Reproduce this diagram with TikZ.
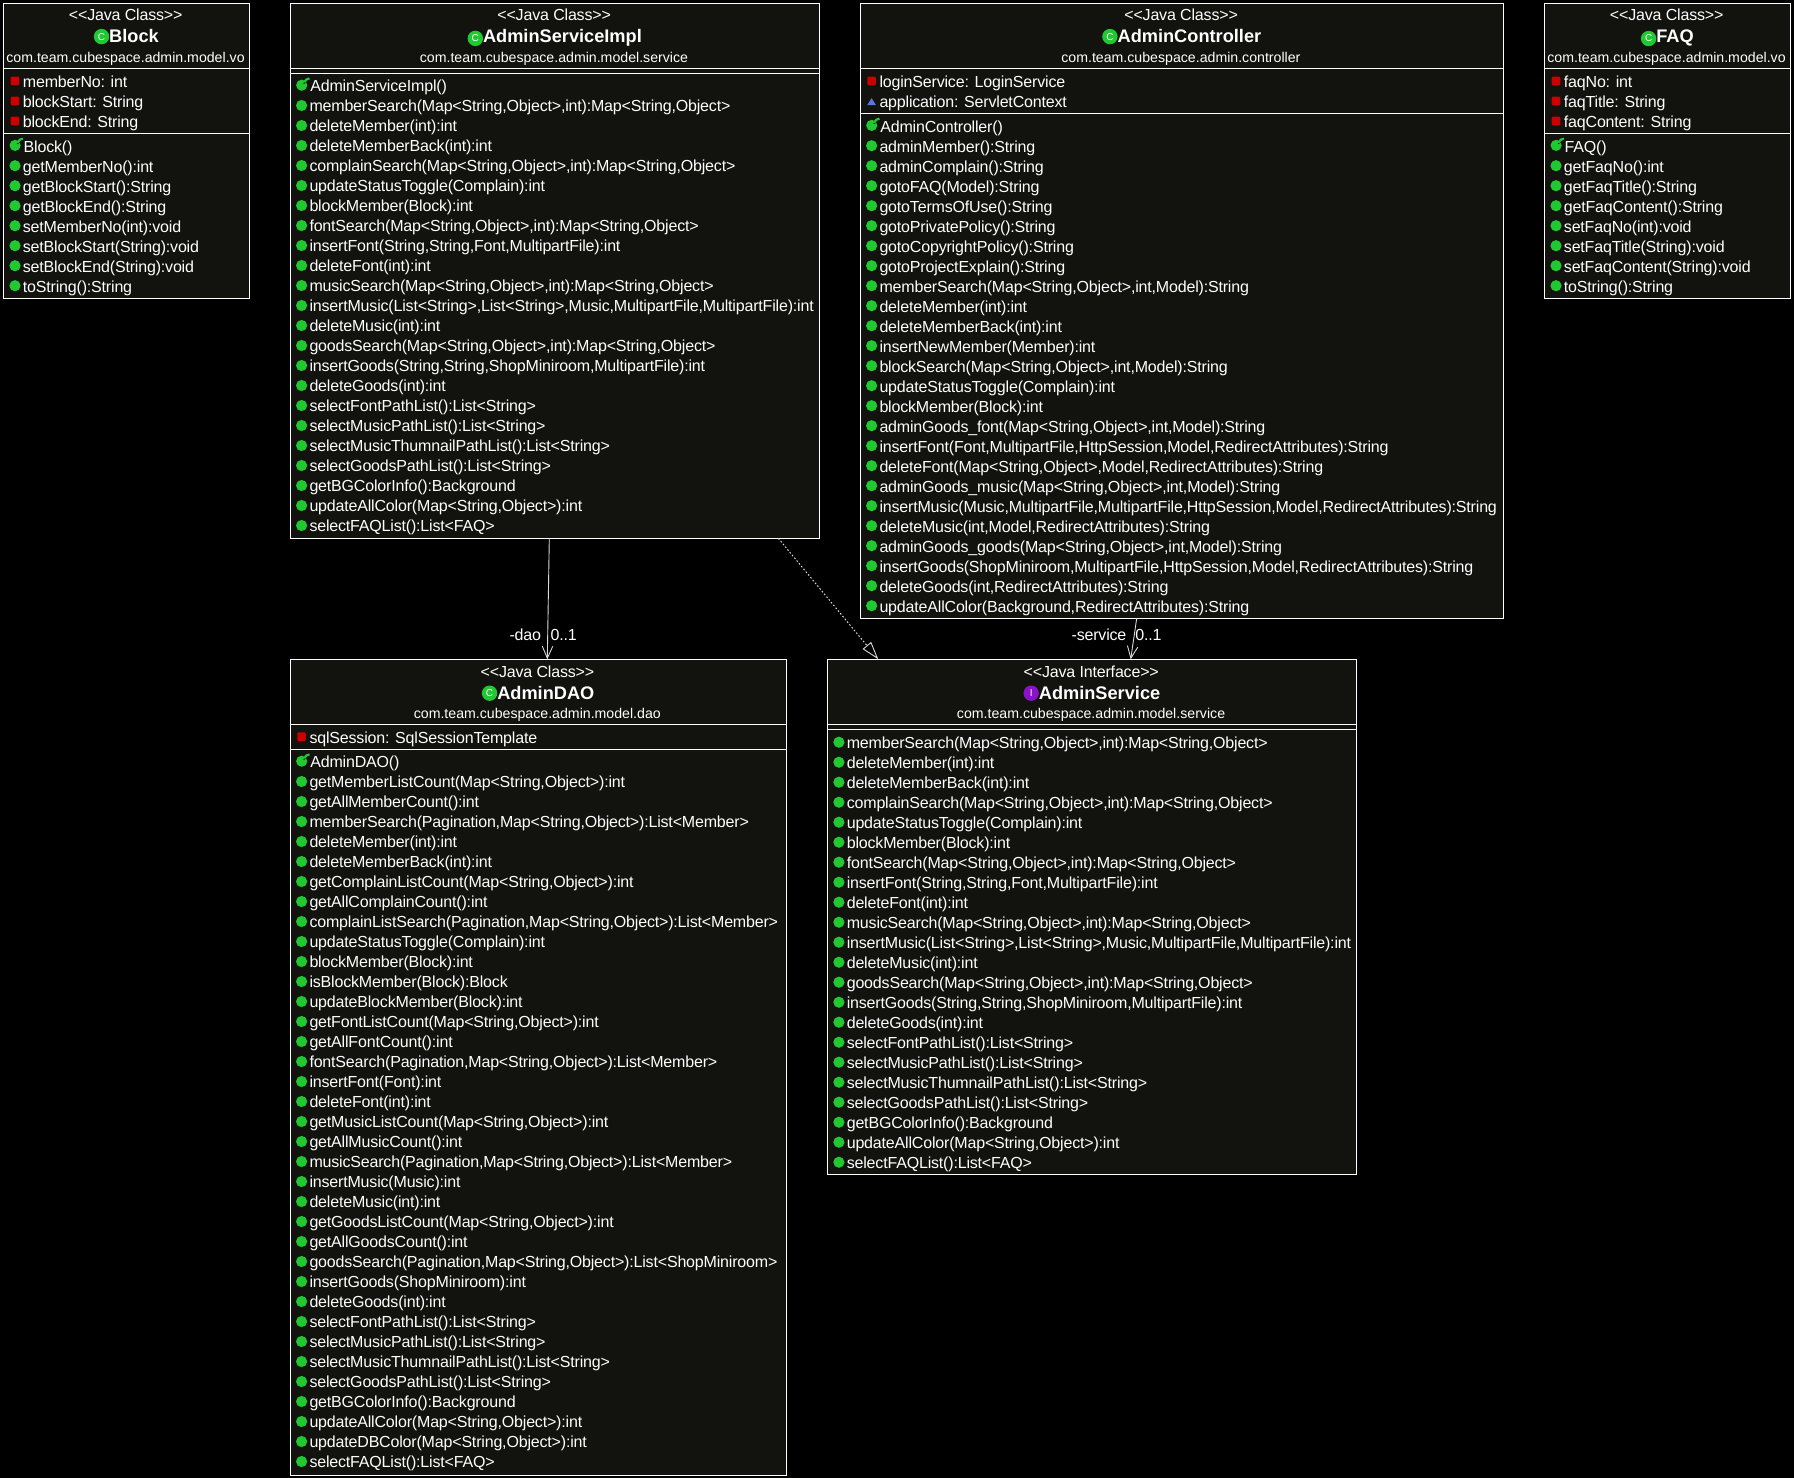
\documentclass[tikz,border=0pt]{standalone}
\usepackage{fontspec}
\setmainfont{Liberation Sans}
\newfontfamily\tightfam[LetterSpace=-1.1]{Liberation Sans}
\usetikzlibrary{arrows.meta}
\definecolor{boxbg}{HTML}{12120E}
\definecolor{pubgreen}{HTML}{22C832}
\definecolor{privred}{HTML}{CC0000}
\definecolor{protblue}{HTML}{5A78DC}
\definecolor{ifacepurple}{HTML}{8A12C8}
\tikzset{
  umlbox/.style={draw=white,fill=boxbg,line width=1pt,inner sep=0,outer sep=0,anchor=north west},
  stereo/.style={text=white,inner sep=0,anchor=base,font=\fontsize{16}{18}\tightfam\selectfont},
  titletext/.style={text=white,inner sep=0,font=\fontsize{18.2}{20}\bfseries\selectfont},
  pkgtext/.style={text=white,inner sep=0,anchor=base,font=\fontsize{14.15}{16}\selectfont},
  rowtext/.style={text=white,inner sep=0,anchor=base west,font=\fontsize{16}{18}\tightfam\selectfont},
  linktext/.style={text=white,inner sep=0,anchor=base,font=\fontsize{16}{18}\tightfam\selectfont},
  iconc/.style={circle,inner sep=0,minimum size=15.4pt,text=white,font=\fontsize{10}{10}\selectfont},
  divider/.style={draw=white,line width=1pt},
  assoc/.style={draw=white!85!black,line width=.9pt,-{Straight Barb[length=12pt,width=10.5pt,line width=.9pt]}},
  realize/.style={draw=white!85!black,line width=1pt,dash pattern=on 1.6pt off 2pt,
    -{Triangle[open,length=18pt,width=11pt,line width=.9pt,fill=black]}},
}
\newcounter{rowno}
\def\rx{0}\def\ry{0}
\newcommand{\setrows}[2]{\def\rx{#1}\def\ry{#2}}
\newcommand{\nextrow}{\pgfmathsetmacro{\ry}{\ry+20}\stepcounter{rowno}}
\newcommand{\pub}[1]{%
  \fill[pubgreen] (\rx-7.7,\ry-0.7) circle (5.6);
  \node[rowtext] (row\the\value{rowno}) at (\rx,\ry+5.6) {#1};
  \nextrow}
\newcommand{\ctor}[1]{%
  \fill[pubgreen] (\rx-7.6,\ry-1) circle (5.6);
  \draw[boxbg,line width=1pt] (\rx-5.6,\ry-2.6) -- (\rx-2.4,\ry-5);
  \draw[pubgreen,line width=2.2pt] (\rx-5,\ry-4) .. controls (\rx-3.8,\ry-6.4) and (\rx-2.4,\ry-7.6) .. (\rx+.2,\ry-7.8);
  \node[rowtext] (row\the\value{rowno}) at (\rx+.8,\ry+5.6) {#1};
  \nextrow}
\newcommand{\priv}[1]{%
  \fill[privred,rounded corners=1pt] (\rx-12,\ry-5) rectangle (\rx-3.4,\ry+3.6);
  \node[rowtext] (row\the\value{rowno}) at (\rx,\ry+5.6) {#1};
  \nextrow}
\newcommand{\prot}[1]{%
  \fill[protblue] (\rx-12,\ry+3.3) -- (\rx-3.4,\ry+3.3) -- (\rx-7.7,\ry-3.6) -- cycle;
  \node[rowtext] (row\the\value{rowno}) at (\rx,\ry+5.6) {#1};
  \nextrow}
\def\hdy{0}
% name, x0, y0, width, height
\newcommand{\umlclass}[5]{\node[umlbox,minimum width=#4pt,minimum height=#5pt] (#1) at (#2,#3) {};}
% name, stereotype, title, package, icon letter, icon colour
\newcommand{\umlhead}[6]{%
  \node[stereo] (#1-st) at ([yshift=-16.9pt-\hdy pt,xshift=-.8pt]#1.north) {#2};
  \node[titletext,anchor=base] (#1-ti) at ([yshift=-39.2pt-\hdy pt,xshift=7.5pt]#1.north) {#3};
  \node[iconc,fill=#6,anchor=east] (#1-ic) at ([xshift=.4pt,yshift=-.2pt]#1-ti.west) {#5};
  \node[pkgtext] (#1-pk) at ([yshift=-58.8pt,xshift=-1pt]#1.north) {#4};}
\newcommand{\umlsep}[2]{\draw[divider] ([yshift=-#2pt]#1.north west) -- ([yshift=-#2pt]#1.north east);}
\begin{document}
\begin{tikzpicture}[x=1pt,y=-1pt]
\path[use as bounding box,fill=black] (0,0) rectangle (1794,1478);

% ---------- Block
\umlclass{block}{3.7}{3.7}{245.6}{294.6}
\umlhead{block}{<{}<Java Class>{}>}{Block}{com.team.cubespace.admin.model.vo}{C}{pubgreen}
\umlsep{block}{64.6}
\umlsep{block}{129.6}
\setrows{22.7}{81.7}
\priv{memberNo: int}
\priv{blockStart: String}
\priv{blockEnd: String}
\setrows{22.7}{146.4}
\ctor{Block()}
\pub{getMemberNo():int}
\pub{getBlockStart():String}
\pub{getBlockEnd():String}
\pub{setMemberNo(int):void}
\pub{setBlockStart(String):void}
\pub{setBlockEnd(String):void}
\pub{toString():String}

% ---------- AdminServiceImpl
\umlclass{impl}{290.3}{3.7}{529.3}{534.6}
\umlhead{impl}{<{}<Java Class>{}>}{AdminServiceImpl}{com.team.cubespace.admin.model.service}{C}{pubgreen}
\umlsep{impl}{64.6}
\umlsep{impl}{69.6}
\setrows{309.3}{86.2}
\ctor{AdminServiceImpl()}
\pub{memberSearch(Map<String,Object>,int):Map<String,Object>}
\pub{deleteMember(int):int}
\pub{deleteMemberBack(int):int}
\pub{complainSearch(Map<String,Object>,int):Map<String,Object>}
\pub{updateStatusToggle(Complain):int}
\pub{blockMember(Block):int}
\pub{fontSearch(Map<String,Object>,int):Map<String,Object>}
\pub{insertFont(String,String,Font,MultipartFile):int}
\pub{deleteFont(int):int}
\pub{musicSearch(Map<String,Object>,int):Map<String,Object>}
\pub{insertMusic(List<String>,List<String>,Music,MultipartFile,MultipartFile):int}
\pub{deleteMusic(int):int}
\pub{goodsSearch(Map<String,Object>,int):Map<String,Object>}
\pub{insertGoods(String,String,ShopMiniroom,MultipartFile):int}
\pub{deleteGoods(int):int}
\pub{selectFontPathList():List<String>}
\pub{selectMusicPathList():List<String>}
\pub{selectMusicThumnailPathList():List<String>}
\pub{selectGoodsPathList():List<String>}
\pub{getBGColorInfo():Background}
\pub{updateAllColor(Map<String,Object>):int}
\pub{selectFAQList():List<FAQ>}

% ---------- AdminController
\umlclass{ctrl}{860.3}{3.7}{643.2}{614.6}
\umlhead{ctrl}{<{}<Java Class>{}>}{AdminController}{com.team.cubespace.admin.controller}{C}{pubgreen}
\umlsep{ctrl}{64.6}
\umlsep{ctrl}{109.6}
\setrows{879.3}{81.7}
\priv{loginService: LoginService}
\prot{application: ServletContext}
\setrows{879.3}{126.4}
\ctor{AdminController()}
\pub{adminMember():String}
\pub{adminComplain():String}
\pub{gotoFAQ(Model):String}
\pub{gotoTermsOfUse():String}
\pub{gotoPrivatePolicy():String}
\pub{gotoCopyrightPolicy():String}
\pub{gotoProjectExplain():String}
\pub{memberSearch(Map<String,Object>,int,Model):String}
\pub{deleteMember(int):int}
\pub{deleteMemberBack(int):int}
\pub{insertNewMember(Member):int}
\pub{blockSearch(Map<String,Object>,int,Model):String}
\pub{updateStatusToggle(Complain):int}
\pub{blockMember(Block):int}
\pub{adminGoods\_font(Map<String,Object>,int,Model):String}
\pub{insertFont(Font,MultipartFile,HttpSession,Model,RedirectAttributes):String}
\pub{deleteFont(Map<String,Object>,Model,RedirectAttributes):String}
\pub{adminGoods\_music(Map<String,Object>,int,Model):String}
\pub{insertMusic(Music,MultipartFile,MultipartFile,HttpSession,Model,RedirectAttributes):String}
\pub{deleteMusic(int,Model,RedirectAttributes):String}
\pub{adminGoods\_goods(Map<String,Object>,int,Model):String}
\pub{insertGoods(ShopMiniroom,MultipartFile,HttpSession,Model,RedirectAttributes):String}
\pub{deleteGoods(int,RedirectAttributes):String}
\pub{updateAllColor(Background,RedirectAttributes):String}

% ---------- FAQ
\umlclass{faq}{1544.7}{3.7}{245.6}{294.6}
\umlhead{faq}{<{}<Java Class>{}>}{FAQ}{com.team.cubespace.admin.model.vo}{C}{pubgreen}
\umlsep{faq}{64.6}
\umlsep{faq}{129.6}
\setrows{1563.7}{81.7}
\priv{faqNo: int}
\priv{faqTitle: String}
\priv{faqContent: String}
\setrows{1563.7}{146.4}
\ctor{FAQ()}
\pub{getFaqNo():int}
\pub{getFaqTitle():String}
\pub{getFaqContent():String}
\pub{setFaqNo(int):void}
\pub{setFaqTitle(String):void}
\pub{setFaqContent(String):void}
\pub{toString():String}

% ---------- AdminDAO
\def\hdy{1}
\umlclass{dao}{290.3}{659.3}{496}{815.7}
\umlhead{dao}{<{}<Java Class>{}>}{AdminDAO}{com.team.cubespace.admin.model.dao}{C}{pubgreen}
\umlsep{dao}{65}
\umlsep{dao}{90}
\setrows{309.3}{737.4}
\priv{sqlSession: SqlSessionTemplate}
\setrows{309.3}{762.2}
\ctor{AdminDAO()}
\pub{getMemberListCount(Map<String,Object>):int}
\pub{getAllMemberCount():int}
\pub{memberSearch(Pagination,Map<String,Object>):List<Member>}
\pub{deleteMember(int):int}
\pub{deleteMemberBack(int):int}
\pub{getComplainListCount(Map<String,Object>):int}
\pub{getAllComplainCount():int}
\pub{complainListSearch(Pagination,Map<String,Object>):List<Member>}
\pub{updateStatusToggle(Complain):int}
\pub{blockMember(Block):int}
\pub{isBlockMember(Block):Block}
\pub{updateBlockMember(Block):int}
\pub{getFontListCount(Map<String,Object>):int}
\pub{getAllFontCount():int}
\pub{fontSearch(Pagination,Map<String,Object>):List<Member>}
\pub{insertFont(Font):int}
\pub{deleteFont(int):int}
\pub{getMusicListCount(Map<String,Object>):int}
\pub{getAllMusicCount():int}
\pub{musicSearch(Pagination,Map<String,Object>):List<Member>}
\pub{insertMusic(Music):int}
\pub{deleteMusic(int):int}
\pub{getGoodsListCount(Map<String,Object>):int}
\pub{getAllGoodsCount():int}
\pub{goodsSearch(Pagination,Map<String,Object>):List<ShopMiniroom>}
\pub{insertGoods(ShopMiniroom):int}
\pub{deleteGoods(int):int}
\pub{selectFontPathList():List<String>}
\pub{selectMusicPathList():List<String>}
\pub{selectMusicThumnailPathList():List<String>}
\pub{selectGoodsPathList():List<String>}
\pub{getBGColorInfo():Background}
\pub{updateAllColor(Map<String,Object>):int}
\pub{updateDBColor(Map<String,Object>):int}
\pub{selectFAQList():List<FAQ>}

% ---------- AdminService
\umlclass{svc}{827.6}{659.3}{528.9}{515.2}
\umlhead{svc}{<{}<Java Interface>{}>}{AdminService}{com.team.cubespace.admin.model.service}{\textsf{I}}{ifacepurple}
\umlsep{svc}{65}
\umlsep{svc}{70}
\setrows{846.6}{742.9}
\pub{memberSearch(Map<String,Object>,int):Map<String,Object>}
\pub{deleteMember(int):int}
\pub{deleteMemberBack(int):int}
\pub{complainSearch(Map<String,Object>,int):Map<String,Object>}
\pub{updateStatusToggle(Complain):int}
\pub{blockMember(Block):int}
\pub{fontSearch(Map<String,Object>,int):Map<String,Object>}
\pub{insertFont(String,String,Font,MultipartFile):int}
\pub{deleteFont(int):int}
\pub{musicSearch(Map<String,Object>,int):Map<String,Object>}
\pub{insertMusic(List<String>,List<String>,Music,MultipartFile,MultipartFile):int}
\pub{deleteMusic(int):int}
\pub{goodsSearch(Map<String,Object>,int):Map<String,Object>}
\pub{insertGoods(String,String,ShopMiniroom,MultipartFile):int}
\pub{deleteGoods(int):int}
\pub{selectFontPathList():List<String>}
\pub{selectMusicPathList():List<String>}
\pub{selectMusicThumnailPathList():List<String>}
\pub{selectGoodsPathList():List<String>}
\pub{getBGColorInfo():Background}
\pub{updateAllColor(Map<String,Object>):int}
\pub{selectFAQList():List<FAQ>}

% ---------- connectors
\draw[assoc] ([xshift=259pt]impl.south west) -- ([xshift=257pt]dao.north west);
\node[linktext] (daorole) at (525.3,640.2) {-dao};
\node[linktext] (daomult) at (563.7,640.2) {0..1};
\draw[realize] ([xshift=488pt]impl.south west) -- ([xshift=50.7pt]svc.north west);
\draw[assoc] ([xshift=276.4pt]ctrl.south west) -- ([xshift=303.1pt]svc.north west);
\node[linktext] (svcrole) at (1099,640.2) {-service};
\node[linktext] (svcmult) at (1148.5,640.2) {0..1};
\end{tikzpicture}
\end{document}
